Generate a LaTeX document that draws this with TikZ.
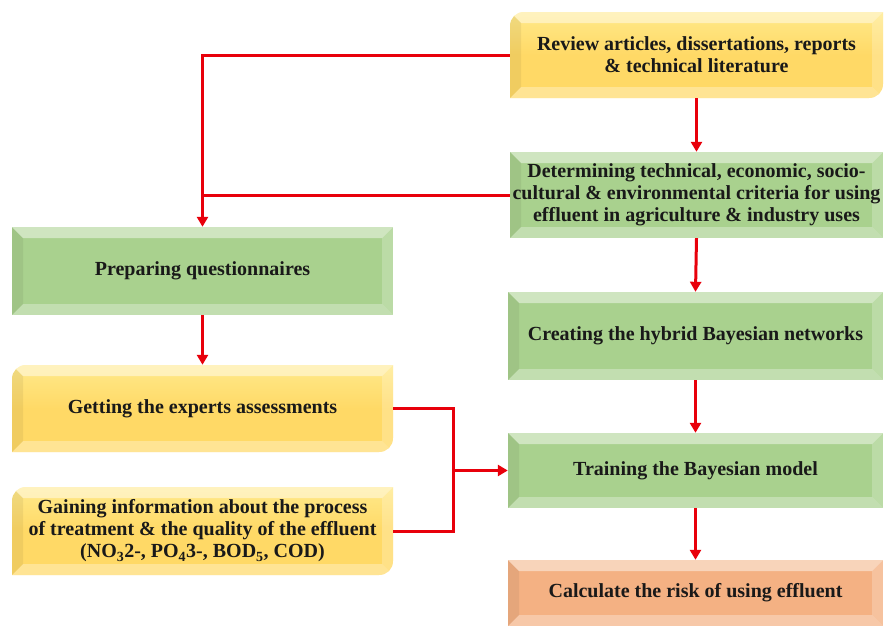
\documentclass[tikz,border=0pt]{standalone}
\usepackage{fontspec}
\setmainfont{Liberation Serif}
\usetikzlibrary{arrows.meta}
\definecolor{yel}{HTML}{FFD966}
\definecolor{yelL}{HTML}{FFE98A}
\definecolor{grn}{HTML}{A9D18E}
\definecolor{org}{HTML}{F4B183}
\definecolor{arrowred}{HTML}{E8000B}
\newcommand\bev[4]{%
  \fill[white,opacity=.45] (#1,#2) -- (#3,#2) -- (#3-11,#2+11) -- (#1+11,#2+11) -- cycle;
  \fill[white,opacity=.30] (#1,#4) -- (#3,#4) -- (#3-11,#4-11) -- (#1+11,#4-11) -- cycle;
  \fill[black,opacity=.06] (#1,#2) -- (#1+11,#2+11) -- (#1+11,#4-11) -- (#1,#4) -- cycle;
  \fill[white,opacity=.22] (#3,#2) -- (#3-11,#2+11) -- (#3-11,#4-11) -- (#3,#4) -- cycle;}
\newcommand\rectbox[5]{%
  \fill[#5] (#1,#2) rectangle (#3,#4);
  \bev{#1}{#2}{#3}{#4}}
\newcommand\rdbox[4]{%
  \begin{scope}
  \clip (#1,#4) -- (#1,#2+14) .. controls (#1,#2+6) and (#1+6,#2) .. (#1+14,#2) -- (#3,#2) -- (#3,#4-14) .. controls (#3,#4-6) and (#3-6,#4) .. (#3-14,#4) -- cycle;
  \shade[top color=yelL, bottom color=yel, middle color=yel] (#1,#2) rectangle (#3,#4);
  \bev{#1}{#2}{#3}{#4}
  \end{scope}}
\begin{document}
\begin{tikzpicture}[x=1pt,y=-1pt,
  lbl/.style={inner sep=0pt, align=center, font=\fontsize{20}{22}\selectfont\bfseries, text=black!90},
  conn/.style={draw=arrowred, line width=3pt},
  arr/.style={conn, -{Triangle[width=11pt,length=10pt]}}]
\useasboundingbox (0,0) rectangle (884,629);
% shapes
\rdbox{510}{12}{883}{98}
\rectbox{510}{152}{883}{238}{grn}
\rectbox{508}{292}{883}{380}{grn}
\rectbox{508}{433}{883}{508}{grn}
\rectbox{508}{560}{883}{626}{org}
\rectbox{12}{227}{393}{315}{grn}
\rdbox{12}{365}{393}{452}
\rdbox{12}{487}{393}{575}
% nodes
\node[lbl, minimum width=373, minimum height=86] (b1) at (696.5,55) {Review articles, dissertations, reports\\\& technical literature};
\node[lbl, minimum width=373, minimum height=86] (b2) at (696.5,195) {Determining technical, economic, socio-\\cultural \& environmental criteria for using\\effluent in agriculture \& industry uses};
\node[lbl, minimum width=375, minimum height=88] (b3) at (695.5,336) {Creating the hybrid Bayesian networks};
\node[lbl, minimum width=375, minimum height=75] (b4) at (695.5,470.5) {Training the Bayesian model};
\node[lbl, minimum width=375, minimum height=66] (b5) at (695.5,593) {Calculate the risk of using effluent};
\node[lbl, minimum width=381, minimum height=88] (prep) at (202.5,271) {Preparing questionnaires};
\node[lbl, minimum width=381, minimum height=87] (get) at (202.5,408.5) {Getting the experts assessments};
\node[lbl, minimum width=381, minimum height=88] (gain) at (202.5,531) {Gaining information about the process\\of treatment \& the quality of the effluent\\(NO\textsubscript{3}2-, PO\textsubscript{4}3-, BOD\textsubscript{5}, COD)};
\coordinate (j) at (453,470.5);
% connectors
\draw[arr] (b1.west) -| (prep.north);
\draw[conn] (b2.west) -- (b2.west -| prep.north);
\draw[arr] (prep.south) -- (get.north);
\draw[conn] (get.east) -| (j);
\draw[conn] (gain.east) -| (j);
\draw[arr] (j) -- (b4.west);
\draw[arr] (b1.south) -- (b2.north);
\draw[arr] (b2.south) -- (b3.north);
\draw[arr] (b3.south) -- (b4.north);
\draw[arr] (b4.south) -- (b5.north);
\end{tikzpicture}
\end{document}
